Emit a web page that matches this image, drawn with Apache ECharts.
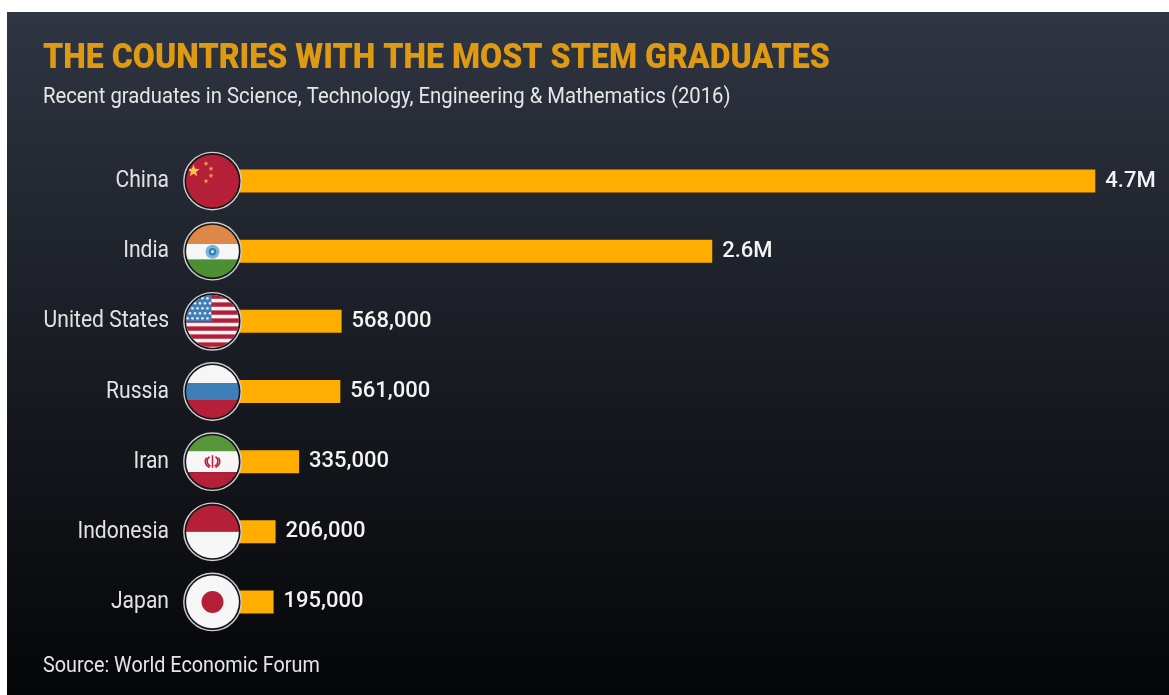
<!DOCTYPE html>
<html>
<head>
<meta charset="utf-8">
<style>html,body{margin:0;padding:0;background:#fff}#chart{width:1169px;height:695px}</style>
<script src="https://cdn.jsdelivr.net/npm/echarts@6/dist/echarts.min.js"></script>
</head>
<body>
<div id="chart"></div>
<script>
const titleText = 'THE COUNTRIES WITH THE MOST STEM GRADUATES';
const subtitleText = 'Recent graduates in Science, Technology, Engineering & Mathematics (2016)';
const sourceText = 'Source: World Economic Forum';
const countries = ['China', 'India', 'United States', 'Russia', 'Iran', 'Indonesia', 'Japan'];
const graduates = [4700000, 2600000, 568000, 561000, 335000, 206000, 195000];
const valueLabels = ['4.7M', '2.6M', '568,000', '561,000', '335,000', '206,000', '195,000'];

const RED = '#b51f38', WHITE = '#f6f6f6', BLUE = '#3f7fb8', GREEN = '#4d8f33';
const hBands = (list) => list.map(([y, h, c]) => `<rect x="0" y="${y}" width="60" height="${h}" fill="${c}"/>`).join('');
const star = (cx, cy, r, c) => {
  let p = '';
  for (let i = 0; i < 10; i++) {
    const a = -Math.PI / 2 + i * Math.PI / 5, q = i % 2 ? r * 0.42 : r;
    p += `${(cx + q * Math.cos(a)).toFixed(2)},${(cy + q * Math.sin(a)).toFixed(2)} `;
  }
  return `<polygon points="${p}" fill="${c}"/>`;
};

function usaFlag() {
  let s = hBands([[0, 60, WHITE]]);
  for (let i = 0; i < 7; i++) s += `<rect x="0" y="${3 + i * 8}" width="60" height="4.4" fill="${RED}"/>`;
  s += `<rect x="0" y="0" width="29" height="30" fill="${BLUE}"/>`;
  for (let r = 0; r < 5; r++) for (let c = 0; c < 5; c++) {
    s += `<circle cx="${5 + c * 5 + (r % 2) * 2.5}" cy="${7 + r * 5}" r="1.3" fill="#dfeaf3"/>`;
  }
  return s;
}

const flagArt = {
  'China': hBands([[0, 60, RED]]) + star(11, 20, 6.5, '#fdc24e') + star(23.5, 12.5, 2.6, '#f0a050') +
    star(28.5, 17.5, 2.6, '#f0a050') + star(28.5, 24.5, 2.6, '#f0a050') + star(23.5, 30, 2.6, '#f0a050'),
  'India': hBands([[0, 22.5, '#dd8848'], [22.5, 16, WHITE], [38.5, 22, GREEN]]) +
    '<circle cx="30" cy="30.5" r="7" fill="#7eb4d8"/><circle cx="30" cy="30.5" r="3.8" fill="#2f7fb8"/>' +
    '<circle cx="30" cy="30.5" r="1.6" fill="#cfe3f0"/>',
  'United States': usaFlag(),
  'Russia': hBands([[0, 21.5, WHITE], [21.5, 17, BLUE], [38.5, 22, RED]]),
  'Iran': hBands([[0, 19.5, '#57963a'], [19.5, 21, WHITE], [40.5, 20, RED]]) +
    `<path d="M30 23.5v12.5M27 25c-3.5 2.5-3 8 1 9.5M33 25c3.5 2.5 3 8-1 9.5M24 26c-2.5 3-1.5 8 3 10M36 26c2.5 3 1.5 8-3 10" stroke="${RED}" stroke-width="1.5" fill="none"/>`,
  'Indonesia': hBands([[0, 30, RED], [30, 30, WHITE]]),
  'Japan': hBands([[0, 60, WHITE]]) + `<circle cx="30" cy="30" r="11" fill="${RED}"/>`
};

// Round flag badge: clipped artwork inside a thin light ring on a dark disc.
function badge(name) {
  const svg = `<svg xmlns="http://www.w3.org/2000/svg" width="60" height="60" viewBox="0 0 60 60">` +
    `<defs><clipPath id="c"><circle cx="30" cy="30" r="26.4"/></clipPath></defs>` +
    `<circle cx="30" cy="30" r="28.7" fill="#14161b" stroke="#cfcfcf" stroke-width="1.4"/>` +
    `<g clip-path="url(#c)">${flagArt[name]}</g></svg>`;
  return 'image://data:image/svg+xml;charset=utf-8,' + encodeURIComponent(svg);
}

const chart = echarts.init(document.getElementById('chart'), null, { renderer: 'canvas' });
const face = 'Roboto, sans-serif';

// Horizontally condensed heading lines.
const headline = (text, x, y, scaleX, fontSize, fontWeight, fill) => ({
  type: 'text', x, y, scaleX, z: 10,
  style: { text, fontSize, fontWeight, fontFamily: face, fill, align: 'left', verticalAlign: 'middle' }
});

chart.setOption({
  animation: false,
  backgroundColor: '#ffffff',
  graphic: [
    {
      type: 'rect', x: 7, y: 12, z: -10,
      shape: { width: 1162, height: 683 },
      style: {
        fill: new echarts.graphic.LinearGradient(0, 0, 0, 1, [
          { offset: 0, color: '#2f3542' },
          { offset: 0.5, color: '#191c23' },
          { offset: 1, color: '#050608' }
        ])
      }
    },
    headline(titleText, 43, 59, 0.917, 35, 900, '#dd9a12'),
    headline(subtitleText, 43, 97, 0.905, 22.4, 'normal', '#e6e6e6'),
    headline(sourceText, 43, 666, 0.885, 22.4, 'normal', '#e6e6e6')
  ],
  grid: { left: 238, right: 19, top: 146, height: 491 },
  xAxis: { type: 'value', min: 0, max: 5000000, show: false },
  yAxis: {
    type: 'category', data: countries, inverse: true,
    axisLine: { show: false }, axisTick: { show: false }, axisLabel: { show: false }
  },
  series: [
    {
      type: 'bar', data: graduates, barWidth: 23, z: 2,
      itemStyle: { color: '#ffae00' },
      label: {
        show: true, position: 'right', distance: 10, color: '#f4f4f4',
        fontFamily: face, fontWeight: 500, fontSize: 22,
        formatter: (p) => valueLabels[p.dataIndex]
      }
    },
    {
      type: 'scatter', z: 5, clip: false, silent: true,
      data: countries.map((name) => ({ value: [0, name], symbol: badge(name) })),
      symbolSize: 60, symbolOffset: [-25.5, 0], itemStyle: { opacity: 1 }
    },
    {
      // Country names, condensed to sit in the narrow gutter left of the badges.
      type: 'custom', z: 6, silent: true,
      data: countries.map((name) => [0, name]),
      encode: { x: 0, y: 1 },
      renderItem: (params, api) => {
        const pt = api.coord([0, api.value(1)]);
        return {
          type: 'text', x: pt[0] - 69, y: pt[1], scaleX: 0.86,
          style: {
            text: countries[params.dataIndex], fontSize: 24.5, fontFamily: face,
            fill: '#e2e2e2', align: 'right', verticalAlign: 'middle'
          }
        };
      }
    }
  ]
});
</script>
</body>
</html>
